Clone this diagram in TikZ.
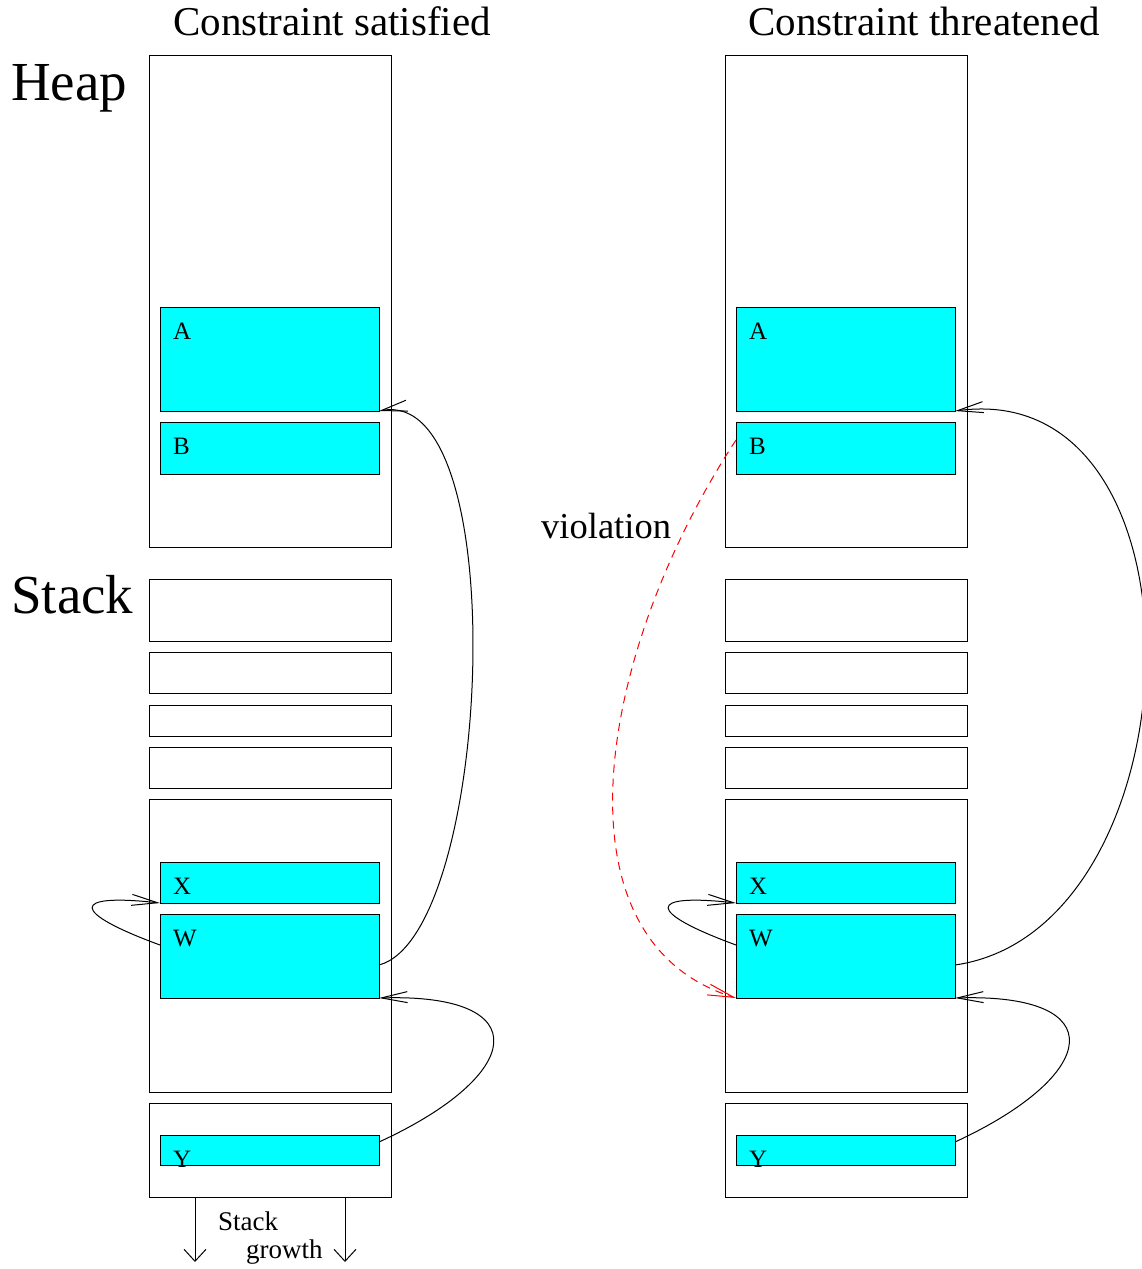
\documentclass[tikz,border=0pt]{standalone}
\usepackage{fontspec}
\setmainfont{Liberation Serif}
\usetikzlibrary{arrows.meta}
\definecolor{objfill}{RGB}{0,255,255}

\begin{document}
\begin{tikzpicture}[x=1pt,y=-1pt,
  frame/.style={draw, line width=0.9pt, inner sep=0, outer sep=0, minimum width=242, anchor=north west},
  obj/.style={draw, fill=objfill, line width=0.9pt, inner sep=0, outer sep=0, minimum width=219, anchor=north west},
  lbl/.style={font=\fontsize{25}{30}\selectfont, anchor=base west, inner sep=0},
  big/.style={font=\fontsize{55}{60}\selectfont, anchor=base west, inner sep=0},
  head/.style={font=\fontsize{41}{48}\selectfont, anchor=base west, inner sep=0},
  ptr/.style={line width=1pt, -{Straight Barb[length=26pt,width=11pt]}}]
\useasboundingbox (0,0) rectangle (1142,1269);
\foreach \s/\dx in {l/0,r/576}{
  \node[frame, minimum height=492] (heap\s) at (\dx+149,55) {};
  \foreach \t/\b [count=\i] in {579/641, 652/693, 705/736, 747/788, 799/1092, 1103/1197}
    \node[frame, minimum height=\b-\t] (f\i\s) at (\dx+149,\t) {};
  \foreach \n/\t/\h in {A/307/104, B/422/52, X/862/41, W/914/84, Y/1135/30}{
    \node[obj, minimum height=\h] (\n\s) at (\dx+160,\t) {};
    \node[lbl] at ([shift={(13,32)}]\n\s.north west) {\n};
  }
}
\node[head] (tl) at (173,35) {Constraint satisfied};
\node[head] (tr) at (748,35) {Constraint threatened};
\node[big] (heap) at (11,100) {Heap};
\node[big] (stack) at (11,613) {Stack};
\node[font=\fontsize{36.5}{40}\selectfont, anchor=base west, inner sep=0] (viol) at (541,538) {violation};
\node[lbl, font=\fontsize{27}{30}\selectfont] (sg1) at (218,1230) {Stack};
\node[lbl, font=\fontsize{27}{30}\selectfont] (sg2) at (246,1258) {growth};
\draw[ptr] ([yshift=-9pt]Wl.east) .. controls (492,935) and (515,385) .. (Al.south east);
\draw[ptr] ([yshift=8pt]Yl.east) .. controls (525,1075) and (538,993) .. (Wl.south east);
\draw[ptr] ([yshift=11pt]Wl.west) .. controls (70,912) and (70,893) .. (Xl.south west);
\draw[ptr] ([yshift=-9pt]Wr.east) .. controls (1200,930) and (1218,375) .. (Ar.south east);
\draw[ptr] ([yshift=8pt]Yr.east) .. controls (1100,1075) and (1114,993) .. (Wr.south east);
\draw[ptr] ([yshift=11pt]Wr.west) .. controls (646,912) and (646,893) .. (Xr.south west);
\draw[ptr, red, dash pattern=on 8pt off 6pt] ([yshift=8pt]Br.west) .. controls (598,650) and (548,940) .. (Wr.south west);
\coordinate (g1) at (195,1262);
\coordinate (g2) at (345,1262);
\draw[line width=1pt, -{Straight Barb[length=12pt,width=22pt]}] ([xshift=46pt]f6l.south west) -- (g1);
\draw[line width=1pt, -{Straight Barb[length=12pt,width=22pt]}] ([xshift=196pt]f6l.south west) -- (g2);
\end{tikzpicture}
\end{document}
